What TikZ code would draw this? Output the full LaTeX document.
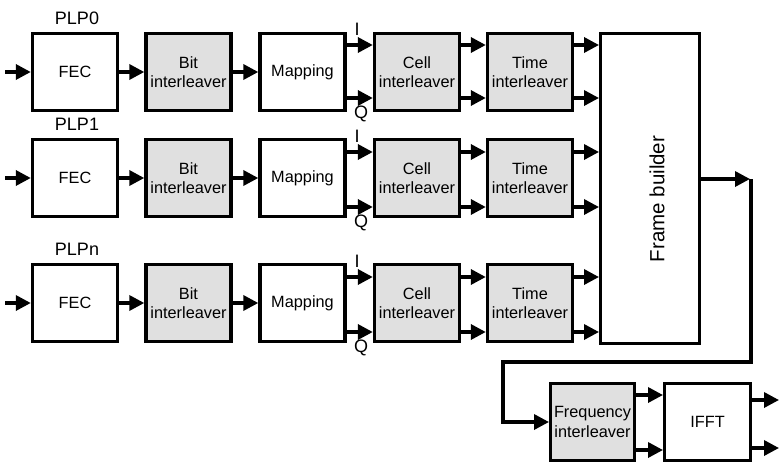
\documentclass[tikz,border=0pt]{standalone}
\usepackage{fontspec}
\setmainfont{Liberation Sans}
\usetikzlibrary{arrows.meta}
\definecolor{boxgray}{HTML}{E0E0E0}
\tikzset{
  blk/.style={draw=black, line width=3.4pt, minimum width=85pt, minimum height=77pt,
    inner sep=0pt, align=center, font=\fontsize{16.3}{19.5}\selectfont},
  gblk/.style={blk, fill=boxgray},
  tip/.style={-{Triangle[length=15pt,width=15pt]}},
  arr/.style={line width=3.4pt, tip},
  wire/.style={line width=3.4pt},
  lbl/.style={font=\fontsize{18}{20}\selectfont, inner sep=0pt},
}
\begin{document}
\begin{tikzpicture}[x=1pt,y=-1pt]
\useasboundingbox (0,0) rectangle (779,463);
\foreach \r/\y/\yi/\yq/\p in {1/72/45/98/PLP0, 2/178/152/207/PLP1, 3/303/277/332/PLPn}{
  \node[blk]  (fec\r)  at (75,\y)    {FEC};
  \node[gblk] (bit\r)  at (188.5,\y) {Bit\\interleaver};
  \node[blk]  (map\r)  at (302.5,\y) {Mapping};
  \node[gblk] (cell\r) at (417,\y)   {Cell\\interleaver};
  \node[gblk] (time\r) at (530,\y)   {Time\\interleaver};
  \node[lbl]  (plp\r)  at (77,\y-54) {\p};
  \node[lbl]  (li\r)   at (357,\yi-16) {I};
  \node[lbl]  (lq\r)   at (361,\yq+16) {Q};
  \coordinate (in\r) at (5,\y);
}
\node[blk, minimum width=98.6pt, minimum height=309.6pt] (frame) at (650,188.5) {};
\node[rotate=90, inner sep=0pt, font=\fontsize{20.5}{22}\selectfont] (fbtext) at (657,199) {Frame builder};
\node[gblk, minimum width=83.6pt, minimum height=76.6pt] (freq) at (592.5,422) {Frequency\\interleaver};
\node[blk, minimum width=85.6pt, minimum height=76.6pt] (ifft) at (707.5,422) {IFFT};

\foreach \r/\yi/\yq in {1/45/98, 2/152/207, 3/277/332}{
  \draw[arr] (in\r) -- (fec\r.west);
  \draw[arr] (fec\r) -- (bit\r);
  \draw[arr] (bit\r) -- (map\r);
  \draw[arr] (map\r.east |- 0,\yi) -- (cell\r.west |- 0,\yi);
  \draw[arr] (map\r.east |- 0,\yq) -- (cell\r.west |- 0,\yq);
  \draw[arr] (cell\r.east |- 0,\yi) -- (time\r.west |- 0,\yi);
  \draw[arr] (cell\r.east |- 0,\yq) -- (time\r.west |- 0,\yq);
  \draw[arr] (time\r.east |- 0,\yi) -- (frame.west |- 0,\yi);
  \draw[arr] (time\r.east |- 0,\yq) -- (frame.west |- 0,\yq);
}
\coordinate (fbo) at (751,179);
\coordinate (turnR) at (751,362);
\coordinate (turnL) at (503,362);
\draw[arr] (frame.east |- fbo) -- ([xshift=-1pt]fbo);
\draw[wire, tip] (fbo) -- (turnR) -- (turnL) |- (freq.west);
\draw[arr] (freq.east |- 0,395) -- (ifft.west |- 0,395);
\draw[arr] (freq.east |- 0,450) -- (ifft.west |- 0,450);
\coordinate (out1) at (779,400);
\coordinate (out2) at (779,448);
\draw[arr] (ifft.east |- out1) -- (out1);
\draw[arr] (ifft.east |- out2) -- (out2);
\end{tikzpicture}
\end{document}
